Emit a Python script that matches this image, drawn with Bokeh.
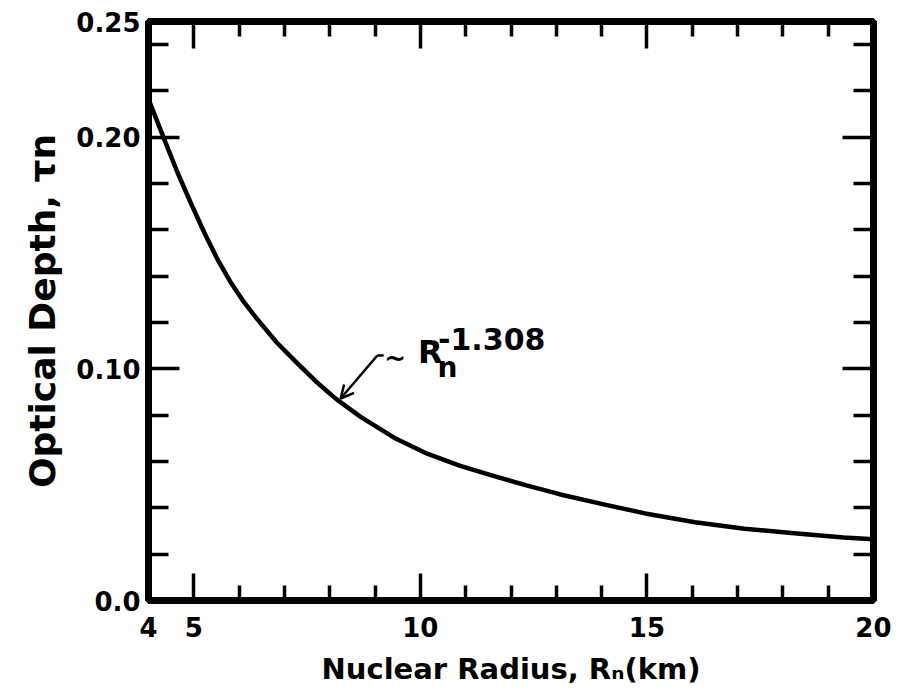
from bokeh.plotting import figure
from bokeh.models import Range1d, LinearAxis, FixedTicker, Arrow, OpenHead, Label
from bokeh.embed import file_html
from bokeh.resources import INLINE

# ---- data ----
radius_km = [4.0, 4.35, 4.64, 4.93, 5.23, 5.52, 5.81, 6.10, 6.39, 6.83, 7.27,
             7.70, 7.96, 8.18, 8.69, 9.42, 10.15, 10.88, 11.61, 12.34, 13.07,
             14.02, 14.96, 16.06, 17.15, 18.25, 19.34, 20.0]
optical_depth = [0.2165, 0.1990, 0.1848, 0.1718, 0.1589, 0.1474, 0.1375, 0.1290,
                 0.1217, 0.1114, 0.1027, 0.0945, 0.0900, 0.0864, 0.0792, 0.0703,
                 0.0634, 0.0581, 0.0538, 0.0497, 0.0459, 0.0416, 0.0376, 0.0338,
                 0.0310, 0.0290, 0.0272, 0.0264]

x_major = [4, 5, 10, 15, 20]
x_minor = [6, 7, 8, 9, 11, 12, 13, 14, 16, 17, 18, 19]
x_labels = {4: "4", 5: "5", 10: "10", 15: "15", 20: "20"}
y_major = [0.0, 0.1, 0.2, 0.25]
y_minor = [0.02, 0.04, 0.06, 0.08, 0.12, 0.14, 0.16, 0.18, 0.22, 0.24]
y_labels = {0.0: "0.0", 0.1: "0.10", 0.2: "0.20", 0.25: "0.25"}

# annotation (arrow to curve + power-law label)
arrow_start = (9.05, 0.1058)
arrow_end = (8.24, 0.0872)
hook_x = [9.05, 9.19]
hook_y = [0.1058, 0.1058]

FONT = "DejaVu Sans"

p = figure(width=891, height=692, output_backend="svg", toolbar_location=None,
           x_range=Range1d(4, 20), y_range=Range1d(0, 0.25),
           min_border_left=148, min_border_right=18, min_border_top=21,
           min_border_bottom=92,
           x_axis_label="Nuclear Radius, Rₙ(km)",
           y_axis_label="Optical Depth, τn")
p.grid.visible = False
p.background_fill_color = "white"
p.border_fill_color = "white"
p.outline_line_color = "black"
p.outline_line_width = 7


def style(ax, xaxis, show_labels):
    ax.axis_line_width = 7
    ax.axis_line_color = "black"
    ax.major_tick_line_width = 3.5
    ax.minor_tick_line_width = 3.5
    ax.major_tick_line_color = "black"
    ax.minor_tick_line_color = "black"
    ax.major_tick_out = 0
    ax.minor_tick_out = 0
    if xaxis:
        ax.major_tick_in = 27
        ax.minor_tick_in = 15
    else:
        ax.major_tick_in = 31
        ax.minor_tick_in = 20
    if show_labels:
        ax.major_label_text_font = FONT
        ax.major_label_text_font_style = "bold"
        ax.major_label_text_font_size = "26px"
        ax.major_label_text_color = "black"
        ax.axis_label_text_font = FONT
        ax.axis_label_text_font_style = "bold"
        ax.axis_label_text_color = "black"
    else:
        ax.major_label_text_font_size = "1px"
        ax.major_label_text_alpha = 0


xa = p.xaxis[0]
xa.ticker = FixedTicker(ticks=x_major, minor_ticks=x_minor)
xa.major_label_overrides = x_labels
xa.major_label_standoff = 16
xa.axis_label_standoff = 12
style(xa, True, True)
xa.axis_label_text_font_size = "29px"

ya = p.yaxis[0]
ya.ticker = FixedTicker(ticks=y_major, minor_ticks=y_minor)
ya.major_label_overrides = y_labels
ya.major_label_standoff = 8
ya.axis_label_standoff = 10
style(ya, False, True)
ya.axis_label_text_font_size = "36px"

top = LinearAxis(ticker=FixedTicker(ticks=x_major, minor_ticks=x_minor))
style(top, True, False)
p.add_layout(top, "above")
right = LinearAxis(ticker=FixedTicker(ticks=y_major, minor_ticks=y_minor))
style(right, False, False)
p.add_layout(right, "right")

p.line(radius_km, optical_depth, line_width=4.5, line_color="black",
       line_join="round")

p.add_layout(Arrow(end=OpenHead(size=13, line_width=2.5, line_color="black"),
                   x_start=arrow_start[0], y_start=arrow_start[1],
                   x_end=arrow_end[0], y_end=arrow_end[1],
                   line_width=2.5, line_color="black"))
p.line(hook_x, hook_y, line_width=2.5, line_color="black")

lab_kw = dict(text_font=FONT, text_font_style="bold", text_color="black",
              text_baseline="alphabetic")
p.add_layout(Label(x=9.2, y=0.1045, text="~", text_font_size="26px", **lab_kw))
p.add_layout(Label(x=9.95, y=0.1073, text="R", text_font_size="32px", **lab_kw))
p.add_layout(Label(x=10.38, y=0.1008, text="n", text_font_size="28px", **lab_kw))
p.add_layout(Label(x=10.39, y=0.1127, text="-1.308", text_font_size="30px", **lab_kw))

open("out.html", "w").write(file_html(p, INLINE))
